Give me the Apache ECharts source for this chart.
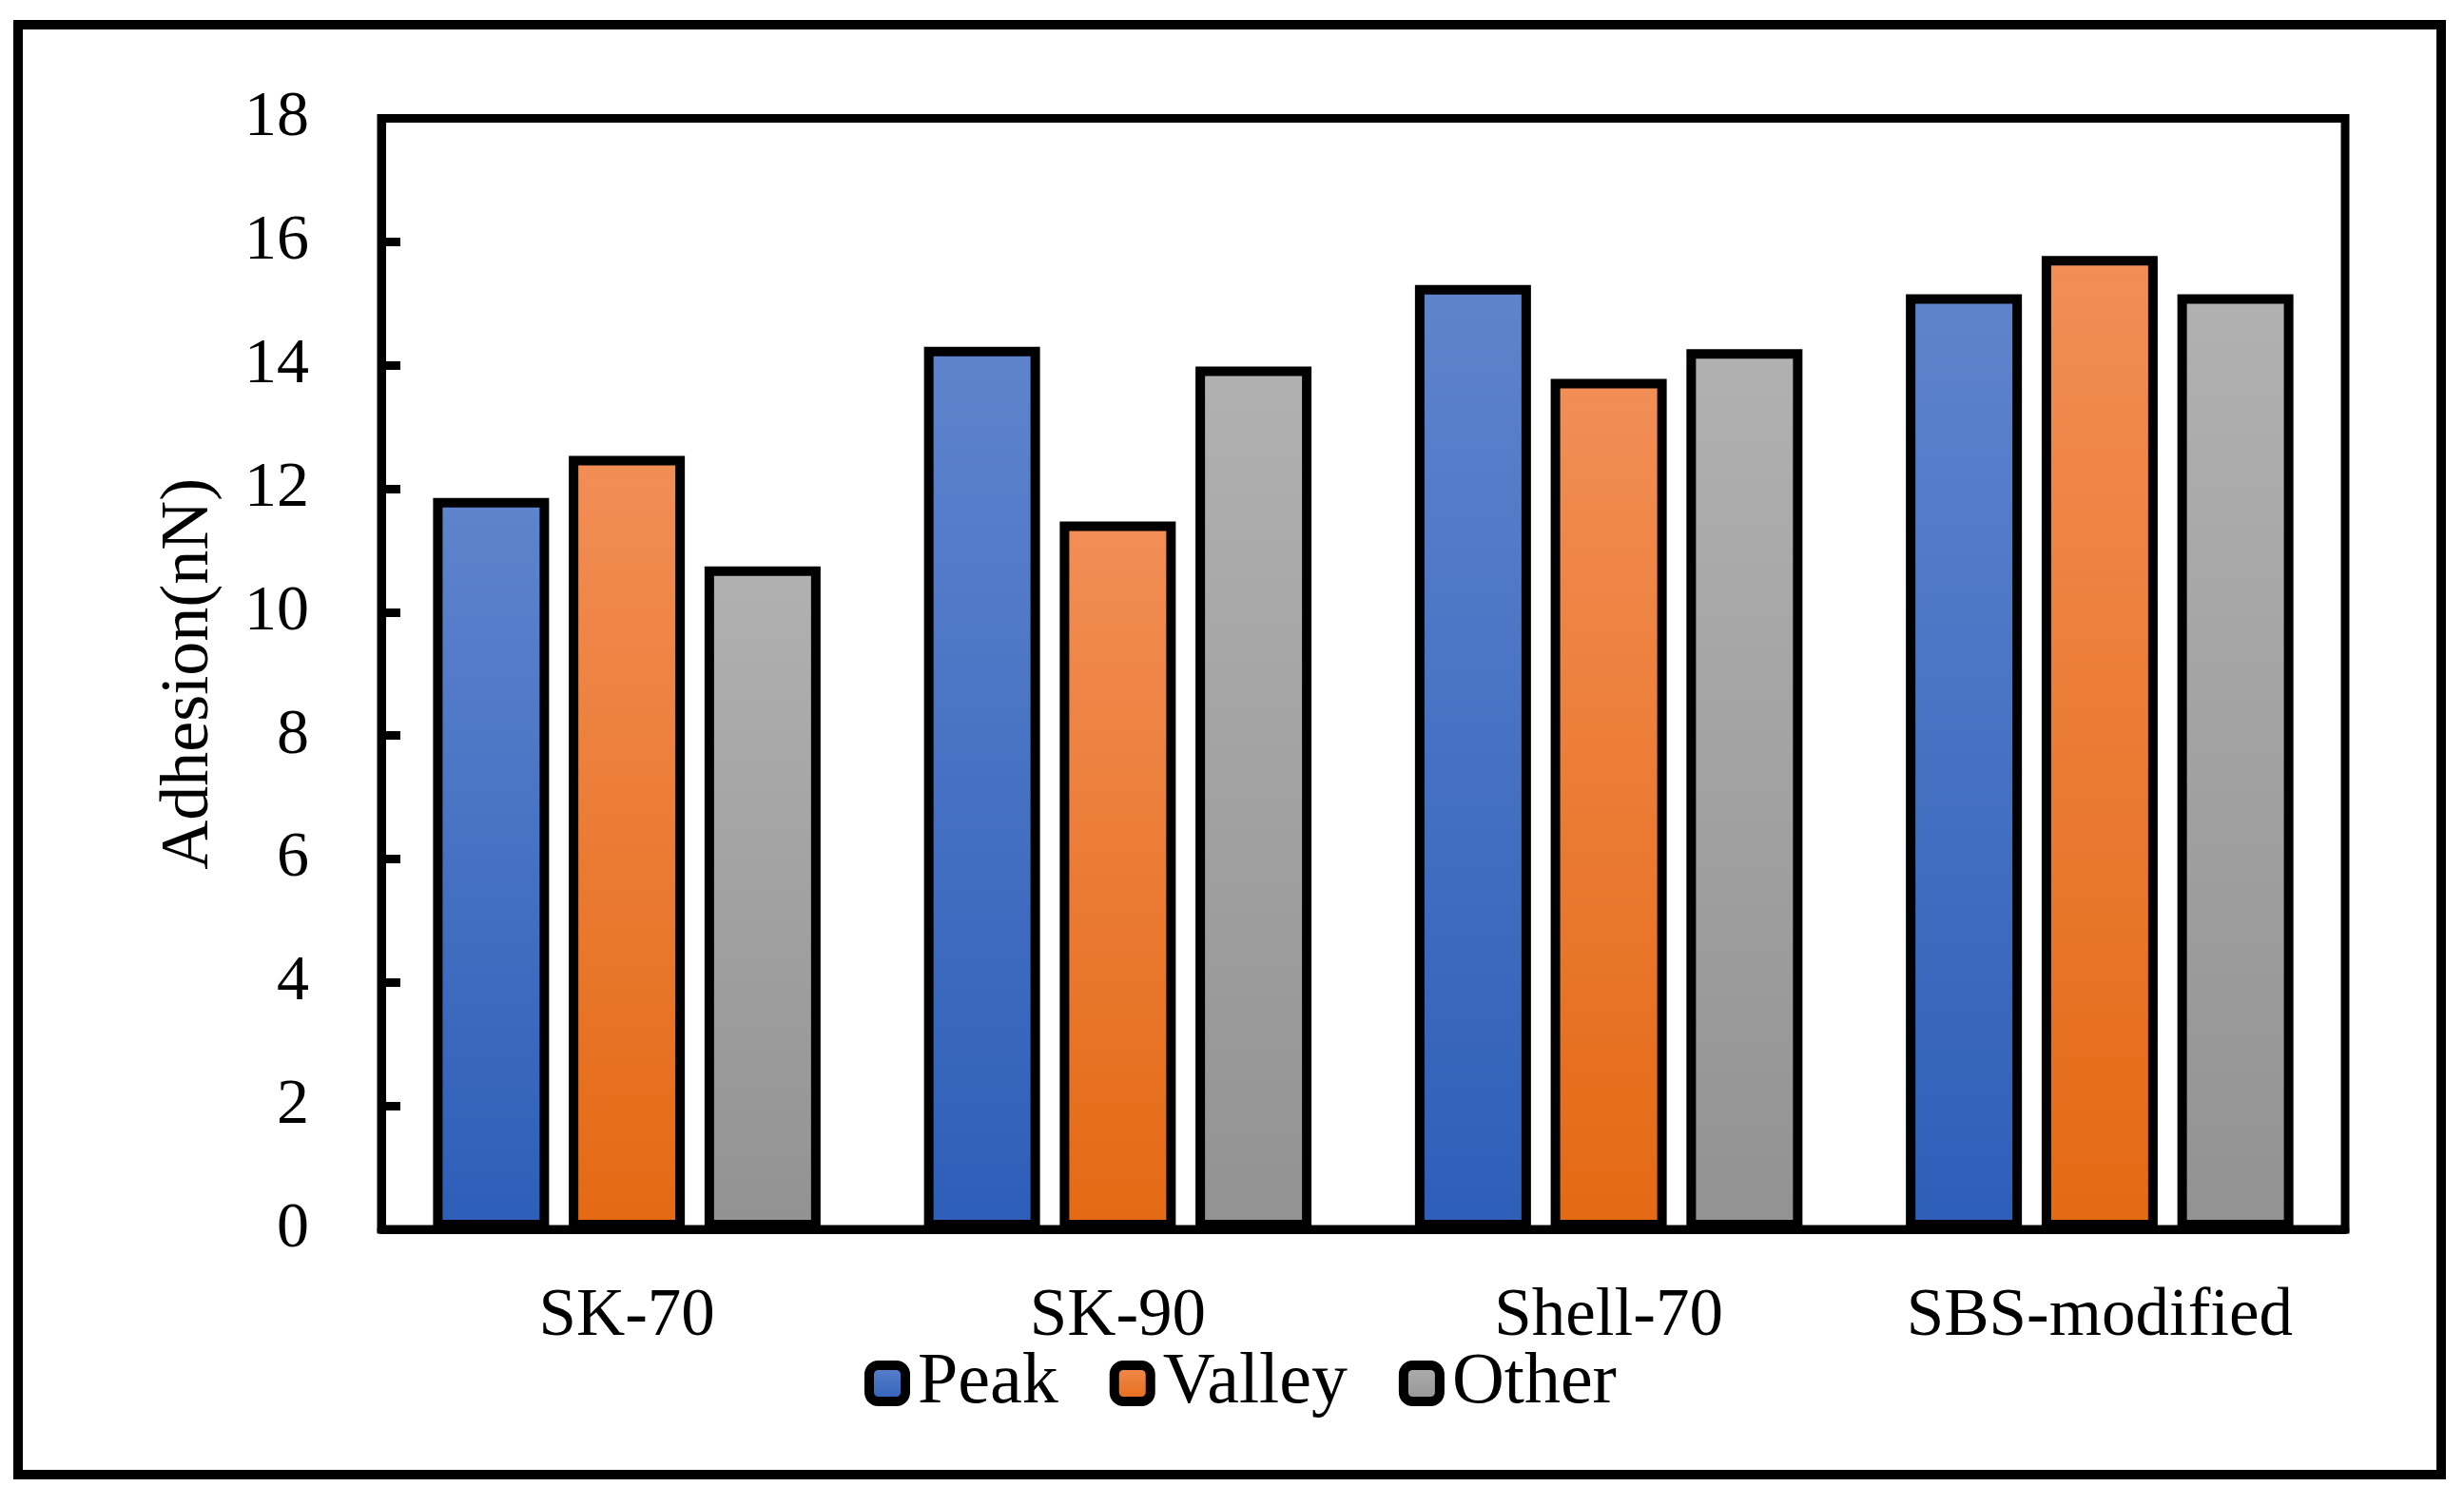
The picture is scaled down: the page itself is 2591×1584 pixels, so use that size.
<!DOCTYPE html>
<html>
<head>
<meta charset="utf-8">
<script src="https://cdn.jsdelivr.net/npm/echarts@6/dist/echarts.min.js"></script>
<style>
html,body{margin:0;padding:0;background:#fff;}
#chart{width:2591px;height:1584px;}
</style>
</head>
<body>
<div id="chart"></div>
<script>
const categories = ['SK-70', 'SK-90', 'Shell-70', 'SBS-modified'];
const seriesNames = ['Peak', 'Valley', 'Other'];
const peakValues = [11.85, 14.3, 15.3, 15.15];
const valleyValues = [12.53, 11.47, 13.78, 15.77];
const otherValues = [10.74, 13.98, 14.26, 15.15];
const yTicks = [0, 2, 4, 6, 8, 10, 12, 14, 16, 18];

const FONT = '"Liberation Serif", "Times New Roman", serif';
const grads = [
  ['#5F84CD', '#2D5EB8'],
  ['#F28E56', '#E46913'],
  ['#B1B1B1', '#929292']
];
function grad(i) {
  return new echarts.graphic.LinearGradient(0, 0, 0, 1, [
    {offset: 0, color: grads[i][0]},
    {offset: 1, color: grads[i][1]}
  ]);
}
const valuesList = [peakValues, valleyValues, otherValues];

const chart = echarts.init(document.getElementById('chart'), null, {renderer: 'canvas'});
chart.setOption({
  backgroundColor: '#fff',
  animation: false,
  graphic: [{
    type: 'rect',
    shape: {x: 19, y: 26, width: 2548, height: 1525},
    style: {fill: 'none', stroke: '#000', lineWidth: 10},
    silent: true
  }],
  grid: {
    left: 401, right: 125, top: 124.5, bottom: 291,
    show: true, borderColor: '#000', borderWidth: 9, backgroundColor: 'transparent'
  },
  legend: {
    left: 904, top: 1412,
    itemWidth: 38, itemHeight: 38, itemGap: 54,
    icon: 'roundRect',
    itemStyle: {borderColor: '#000', borderWidth: 10},
    textStyle: {fontFamily: FONT, fontSize: 76, color: '#000', padding: [0, 0, 0, 8]},
    data: seriesNames
  },
  xAxis: {
    type: 'category',
    data: categories,
    axisLine: {show: true, lineStyle: {color: '#000', width: 9}},
    axisTick: {show: false},
    axisLabel: {fontFamily: FONT, fontSize: 71, color: '#000', margin: 57, interval: 0},
    splitLine: {show: false}
  },
  yAxis: {
    type: 'value',
    min: yTicks[0], max: yTicks[yTicks.length - 1], interval: 2,
    name: 'Adhesion(nN)',
    nameLocation: 'middle',
    nameGap: 166,
    nameTextStyle: {fontFamily: FONT, fontSize: 72, color: '#000'},
    axisLine: {show: true, lineStyle: {color: '#000', width: 9}},
    axisTick: {show: true, inside: true, length: 20, lineStyle: {color: '#000', width: 9}},
    axisLabel: {fontFamily: FONT, fontSize: 68, color: '#000', margin: 76},
    splitLine: {show: false}
  },
  series: seriesNames.map((name, i) => ({
    name: name,
    type: 'bar',
    data: valuesList[i],
    barWidth: 122,
    barGap: '17%',
    itemStyle: {color: grad(i), borderColor: '#000', borderWidth: 10}
  }))
});
</script>
</body>
</html>
